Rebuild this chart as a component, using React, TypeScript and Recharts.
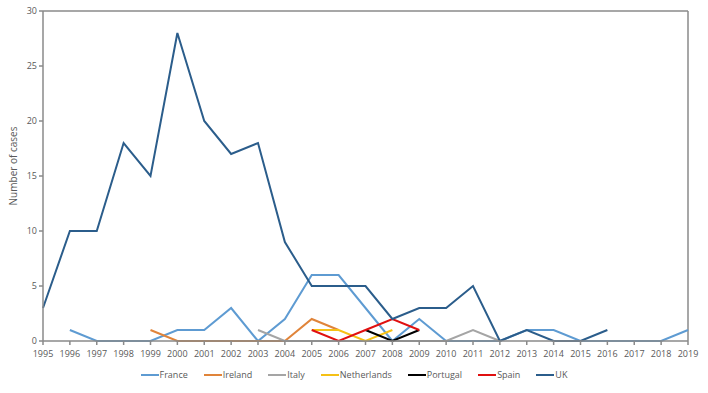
import React from "react";
import { LineChart, Line, XAxis, YAxis, Legend, ReferenceLine } from "recharts";

// Yearly case counts by country, 1995–2019 (null = no report that year)
const years = [
  1995, 1996, 1997, 1998, 1999, 2000, 2001, 2002, 2003, 2004, 2005, 2006,
  2007, 2008, 2009, 2010, 2011, 2012, 2013, 2014, 2015, 2016, 2017, 2018, 2019,
];

const france = [
  null, 1, 0, 0, 0, 1, 1, 3, 0, 2, 6, 6, 3, 0, 2, 0, 0, 0, 1, 1, 0, 0, 0, 0, 1,
];
const ireland = [
  null, null, null, null, 1, 0, 0, 0, 0, 0, 2, 1, null, null, null, null, null,
  null, null, null, null, null, null, null, null,
];
const italy = [
  null, null, null, null, null, null, null, null, 1, 0, 0, 0, 0, 0, 0, 0, 1, 0,
  null, null, null, null, null, null, null,
];
const netherlands = [
  null, null, null, null, null, null, null, null, null, null, 1, 1, 0, 1, null,
  null, null, null, null, null, null, null, null, null, null,
];
const portugal = [
  null, null, null, null, null, null, null, null, null, null, null, null, 1, 0,
  1, null, null, null, null, null, null, null, null, null, null,
];
const spain = [
  null, null, null, null, null, null, null, null, null, null, 1, 0, 1, 2, 1,
  null, null, null, null, null, null, null, null, null, null,
];
const uk = [
  3, 10, 10, 18, 15, 28, 20, 17, 18, 9, 5, 5, 5, 2, 3, 3, 5, 0, 1, 0, 0, 1,
  null, null, null,
];

const yTicks = [0, 5, 10, 15, 20, 25, 30];

const series = [
  { key: "France", values: france, color: "#5e9bd2" },
  { key: "Ireland", values: ireland, color: "#e0843a" },
  { key: "Italy", values: italy, color: "#a5a5a5" },
  { key: "Netherlands", values: netherlands, color: "#f5c116" },
  { key: "Portugal", values: portugal, color: "#000000" },
  { key: "Spain", values: spain, color: "#e01010" },
  { key: "UK", values: uk, color: "#2b5d8b" },
];

const data = years.map((year, i) => {
  const row: Record<string, number | null> = { year };
  series.forEach((s) => {
    row[s.key] = s.values[i];
  });
  return row;
});

const FONT = "'Open Sans', 'Liberation Sans', sans-serif";
const TEXT = "#595959";
const AXIS = "#8a8a8a";

const LegendContent = () => (
  <div
    style={{
      display: "flex",
      justifyContent: "center",
      alignItems: "center",
      fontFamily: FONT,
      fontSize: 9,
      color: TEXT,
      paddingLeft: 36,
    }}
  >
    {series.map((s) => (
      <div
        key={s.key}
        style={{ display: "flex", alignItems: "center", marginRight: 16 }}
      >
        <span
          style={{
            display: "inline-block",
            width: 18,
            height: 2,
            background: s.color,
            marginRight: 1,
          }}
        />
        <span>{s.key}</span>
      </div>
    ))}
  </div>
);

export default function App() {
  return (
    <div style={{ position: "absolute", left: 0, top: 0, background: "#fff" }}>
      <LineChart
        width={708}
        height={393}
        data={data}
        margin={{ top: 11, right: 20, bottom: 14, left: 0 }}
      >
        <XAxis
          dataKey="year"
          type="category"
          interval={0}
          height={22}
          axisLine={{ stroke: AXIS, strokeWidth: 1.5 }}
          tickLine={{ stroke: AXIS, strokeWidth: 1.5 }}
          tickSize={4}
          tick={{ fill: TEXT, fontSize: 9, fontFamily: FONT, dy: 4 }}
        />
        <YAxis
          width={43}
          domain={[0, 30]}
          ticks={yTicks}
          interval={0}
          axisLine={{ stroke: AXIS, strokeWidth: 1.5 }}
          tickLine={{ stroke: AXIS, strokeWidth: 1.5 }}
          tickSize={4}
          tick={{ fill: TEXT, fontSize: 9, fontFamily: FONT }}
          label={{
            content: () => (
              <text
                x={13}
                y={166}
                transform="rotate(-90 13 166)"
                textAnchor="middle"
                dominantBaseline="central"
                fill={TEXT}
                fontSize={10}
                fontFamily={FONT}
              >
                Number of cases
              </text>
            ),
          }}
        />
        <ReferenceLine y={30} stroke={AXIS} strokeWidth={1.5} />
        <ReferenceLine x={2019} stroke={AXIS} strokeWidth={1.5} />
        {series.map((s) => (
          <Line
            key={s.key}
            dataKey={s.key}
            type="linear"
            stroke={s.color}
            strokeWidth={2}
            dot={false}
            activeDot={false}
            isAnimationActive={false}
          />
        ))}
        <Legend
          verticalAlign="bottom"
          height={16}
          wrapperStyle={{ bottom: 9 }}
          content={<LegendContent />}
        />
      </LineChart>
    </div>
  );
}
